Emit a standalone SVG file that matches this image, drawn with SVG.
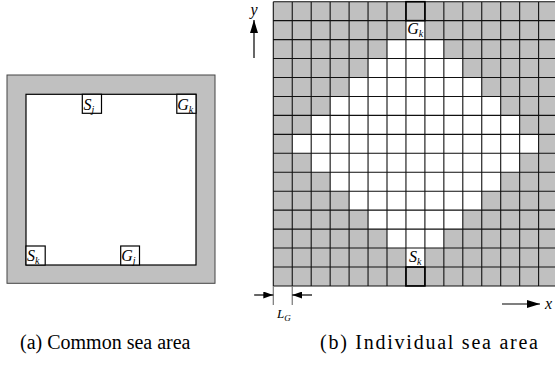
<svg xmlns="http://www.w3.org/2000/svg" width="555" height="365" viewBox="0 0 555 365">
<style>
.lbl{font-family:"Liberation Serif","Times New Roman",serif;font-style:italic;font-size:16px;fill:#000}
.sub{font-size:10px}
.cap{font-family:"Liberation Serif","Times New Roman",serif;font-size:20px;fill:#000}
.gray{fill:#c0c0c0}
.box{fill:#fff;stroke:#000;stroke-width:1.2}
.ax{stroke:#000;stroke-width:1.2;fill:none}
.ext{stroke:#777;stroke-width:1.2;fill:none}
</style>
<defs>
<marker id="ah" markerWidth="13" markerHeight="8" refX="13" refY="4" orient="auto" markerUnits="userSpaceOnUse"><path d="M0,0 L13,4 L0,8 Z" fill="#000"/></marker>
<marker id="ahs" markerWidth="10" markerHeight="7" refX="10" refY="3.5" orient="auto" markerUnits="userSpaceOnUse"><path d="M0,0 L10,3.5 L0,7 Z" fill="#000"/></marker>
</defs>

<g id="common-sea-area">
<rect x="7" y="75" width="208" height="208.3" class="gray" stroke="#444" stroke-width="1"/>
<rect x="26" y="94.3" width="170" height="170.7" fill="#fff" stroke="#000" stroke-width="1.2"/>
</g>
<g id="node-Sj"><rect x="82.3" y="94.3" width="19.2" height="19" class="box"/><text class="lbl" x="83.5" y="109.5">S<tspan class="sub" dy="3">j</tspan></text></g>
<g id="node-Gk-a"><rect x="176.8" y="94.3" width="19.2" height="19" class="box"/><text class="lbl" x="177.3" y="109.5">G<tspan class="sub" dy="3">k</tspan></text></g>
<g id="node-Sk-a"><rect x="26" y="246" width="19.2" height="19" class="box"/><text class="lbl" x="27" y="261">S<tspan class="sub" dy="3">k</tspan></text></g>
<g id="node-Gj"><rect x="120.7" y="246" width="18.8" height="19" class="box"/><text class="lbl" x="121.3" y="261">G<tspan class="sub" dy="3">j</tspan></text></g>

<g id="individual-sea-area" transform="translate(273.3,1.7)">
<rect x="0" y="0" width="284.25" height="284.25" class="gray"/>
<g fill="#fff">
<rect x="132.65" y="18.95" width="18.95" height="18.95"/>
<rect x="113.7" y="37.9" width="56.85" height="18.95"/>
<rect x="94.75" y="56.85" width="94.75" height="18.95"/>
<rect x="75.8" y="75.8" width="132.65" height="18.95"/>
<rect x="56.85" y="94.75" width="170.55" height="18.95"/>
<rect x="37.9" y="113.7" width="208.45" height="18.95"/>
<rect x="18.95" y="132.65" width="246.35" height="18.95"/>
<rect x="37.9" y="151.6" width="208.45" height="18.95"/>
<rect x="56.85" y="170.55" width="170.55" height="18.95"/>
<rect x="75.8" y="189.5" width="132.65" height="18.95"/>
<rect x="94.75" y="208.45" width="94.75" height="18.95"/>
<rect x="113.7" y="227.4" width="56.85" height="18.95"/>
<rect x="132.65" y="246.35" width="18.95" height="18.95"/>
</g>
<path stroke="#111" stroke-width="1.1" fill="none" d="M0 0V284.25M18.95 0V284.25M37.9 0V284.25M56.85 0V284.25M75.8 0V284.25M94.75 0V284.25M113.7 0V284.25M132.65 0V284.25M151.6 0V284.25M170.55 0V284.25M189.5 0V284.25M208.45 0V284.25M227.4 0V284.25M246.35 0V284.25M265.3 0V284.25M284.25 0V284.25M0 0H284.25M0 18.95H284.25M0 37.9H284.25M0 56.85H284.25M0 75.8H284.25M0 94.75H284.25M0 113.7H284.25M0 132.65H284.25M0 151.6H284.25M0 170.55H284.25M0 189.5H284.25M0 208.45H284.25M0 227.4H284.25M0 246.35H284.25M0 265.3H284.25M0 284.25H284.25"/>
<rect x="132.65" y="0" width="18.95" height="18.95" fill="none" stroke="#000" stroke-width="1.6"/>
<rect x="132.65" y="265.3" width="18.95" height="18.95" fill="none" stroke="#000" stroke-width="1.6"/>
</g>
<g id="node-Gk-b"><text class="lbl" x="407.3" y="34">G<tspan class="sub" dy="3">k</tspan></text></g>
<g id="node-Sk-b"><text class="lbl" x="409" y="262">S<tspan class="sub" dy="3">k</tspan></text></g>

<g id="connectors">
<line x1="254" y1="58" x2="254" y2="20" class="ax" marker-end="url(#ah)"/>
<line x1="502" y1="304" x2="540" y2="304" class="ax" marker-end="url(#ah)"/>
<line x1="273.3" y1="286" x2="273.3" y2="305" class="ext"/>
<line x1="292.25" y1="286" x2="292.25" y2="305" class="ext"/>
<line x1="254" y1="295" x2="273.3" y2="295" class="ax" marker-end="url(#ahs)"/>
<line x1="312" y1="295" x2="292.25" y2="295" class="ax" marker-end="url(#ahs)"/>
</g>
<text class="lbl" x="250.5" y="15" style="font-size:16px">y</text>
<text class="lbl" x="545" y="309" style="font-size:16px">x</text>
<text class="lbl" x="277" y="318" style="font-size:13px">L<tspan class="sub" dy="2.5" style="font-size:9px">G</tspan></text>

<text class="cap" x="20" y="349">(a) Common sea area</text>
<text class="cap" x="320" y="349" textLength="218" lengthAdjust="spacing">(b) Individual sea area</text>
</svg>
